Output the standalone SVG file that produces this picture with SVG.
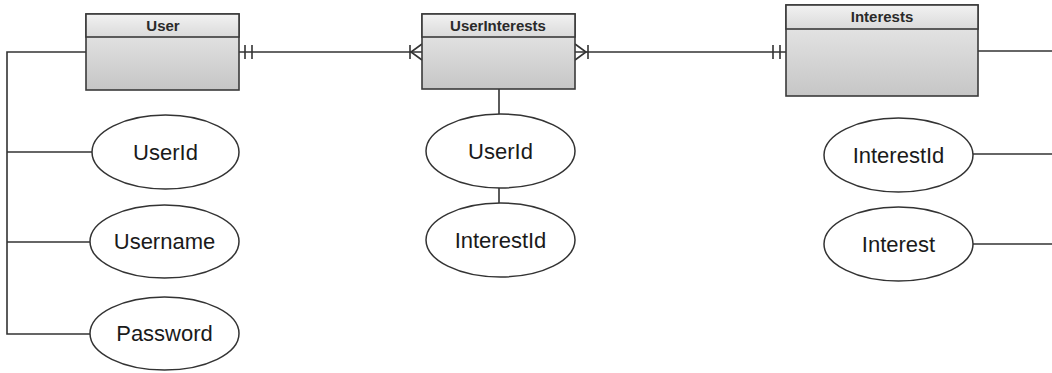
<svg xmlns="http://www.w3.org/2000/svg" width="1052" height="373" viewBox="0 0 1052 373">
  <defs>
    <linearGradient id="hdr" x1="0" y1="0" x2="0" y2="1">
      <stop offset="0" stop-color="#f2f2f2"/>
      <stop offset="1" stop-color="#dadada"/>
    </linearGradient>
    <linearGradient id="body" x1="0" y1="0" x2="0" y2="1">
      <stop offset="0" stop-color="#ececec"/>
      <stop offset="1" stop-color="#c6c6c6"/>
    </linearGradient>
  </defs>
  <style>
    .box { fill: url(#body); stroke: #3a3a3a; stroke-width: 1.6; }
    .hdr { fill: url(#hdr); stroke: #3a3a3a; stroke-width: 1.6; }
    .title { font-family: "Liberation Sans", Arial, sans-serif; font-weight: bold; font-size: 15px; fill: #2a2a2a; text-anchor: middle; }
    .attr { fill: #ffffff; stroke: #333333; stroke-width: 1.5; }
    .label { font-family: "Liberation Sans", Arial, sans-serif; font-size: 22px; fill: #1a1a1a; text-anchor: middle; }
    .ln { fill: none; stroke: #333333; stroke-width: 1.6; }
  </style>

  <g id="connectors">
    <!-- User attributes bus -->
    <polyline class="ln" points="86,52 7,52 7,334 90,334"/>
    <line class="ln" x1="7" y1="152" x2="92" y2="152"/>
    <line class="ln" x1="7" y1="242" x2="90" y2="242"/>
    <!-- User to UserInterests -->
    <line class="ln" x1="239" y1="52" x2="422" y2="52"/>
    <line class="ln" x1="245" y1="45" x2="245" y2="59"/>
    <line class="ln" x1="252" y1="45" x2="252" y2="59"/>
    <line class="ln" x1="410" y1="45" x2="410" y2="59"/>
    <polyline class="ln" points="422,44 411,52 422,60"/>
    <!-- UserInterests to Interests -->
    <line class="ln" x1="575" y1="52" x2="786" y2="52"/>
    <polyline class="ln" points="575,44 586,52 575,60"/>
    <line class="ln" x1="588" y1="45" x2="588" y2="59"/>
    <line class="ln" x1="773" y1="45" x2="773" y2="59"/>
    <line class="ln" x1="780" y1="45" x2="780" y2="59"/>
    <!-- Interests right -->
    <line class="ln" x1="978" y1="51" x2="1052" y2="51"/>
    <line class="ln" x1="973" y1="154" x2="1052" y2="154"/>
    <line class="ln" x1="973" y1="244" x2="1052" y2="244"/>
    <!-- UserInterests attributes -->
    <line class="ln" x1="499" y1="89" x2="499" y2="114"/>
    <line class="ln" x1="499" y1="188" x2="499" y2="203"/>
  </g>

  <g id="User">
    <rect class="box" x="86" y="14" width="153" height="76"/>
    <rect class="hdr" x="86" y="14" width="153" height="23"/>
    <text class="title" x="163" y="31">User</text>
  </g>

  <g id="UserInterests">
    <rect class="box" x="422" y="14" width="153" height="75"/>
    <rect class="hdr" x="422" y="14" width="153" height="23"/>
    <text class="title" x="498" y="31">UserInterests</text>
  </g>

  <g id="Interests">
    <rect class="box" x="786" y="5" width="192" height="91"/>
    <rect class="hdr" x="786" y="5" width="192" height="24"/>
    <text class="title" x="882" y="22">Interests</text>
  </g>

  <g id="User-UserId">
    <ellipse class="attr" cx="165.5" cy="152" rx="73.5" ry="37"/>
    <text class="label" x="165.5" y="159.5">UserId</text>
  </g>
  <g id="User-Username">
    <ellipse class="attr" cx="164.5" cy="241.5" rx="74.5" ry="36.5"/>
    <text class="label" x="164.5" y="249">Username</text>
  </g>
  <g id="User-Password">
    <ellipse class="attr" cx="164.5" cy="333.5" rx="74.5" ry="36.5"/>
    <text class="label" x="164.5" y="341">Password</text>
  </g>

  <g id="UserInterests-UserId">
    <ellipse class="attr" cx="500.5" cy="151" rx="74.5" ry="37"/>
    <text class="label" x="500.5" y="158.5">UserId</text>
  </g>
  <g id="UserInterests-InterestId">
    <ellipse class="attr" cx="500.5" cy="240" rx="74.5" ry="37"/>
    <text class="label" x="500.5" y="247.5">InterestId</text>
  </g>

  <g id="Interests-InterestId">
    <ellipse class="attr" cx="898.5" cy="155" rx="74.5" ry="37"/>
    <text class="label" x="898.5" y="162.5">InterestId</text>
  </g>
  <g id="Interests-Interest">
    <ellipse class="attr" cx="898.5" cy="244" rx="74.5" ry="37"/>
    <text class="label" x="898.5" y="251.5">Interest</text>
  </g>
</svg>
